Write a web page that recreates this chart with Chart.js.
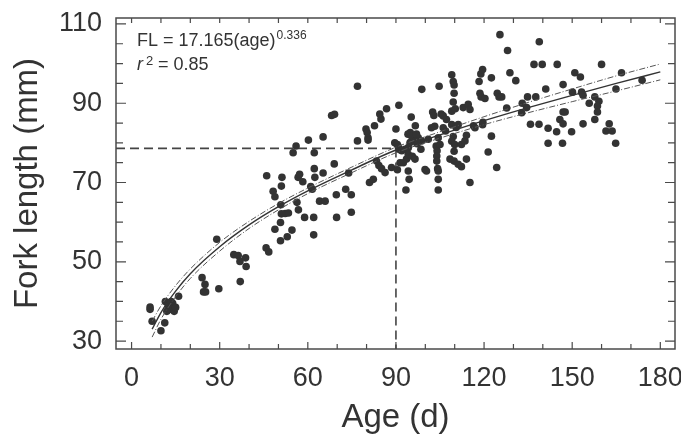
<!DOCTYPE html>
<html>
<head>
<meta charset="utf-8">
<script src="https://cdn.jsdelivr.net/npm/chart.js@4.4.0/dist/chart.umd.min.js"></script>
<style>
  html, body { margin: 0; padding: 0; background: #fff; }
  #wrap { width: 681px; height: 434px; }
</style>
</head>
<body>
<div id="wrap"><canvas id="chart" width="681" height="434"></canvas></div>
<script>
// fish samples: age (d) and fork length (mm)
const ages = [
  6.3, 6.3, 7, 10, 11.3, 11.5, 12.5, 13, 12, 14, 14.5, 15, 13.5, 16,
  24, 25, 24.5, 25.2, 29, 29.7, 34.8, 36.3, 36.9, 37, 38.8, 39,
  45.8, 46.7, 46, 48.2, 48.8, 48.8, 50.8, 51, 51.2, 50.7, 50.7, 52.3, 53, 53.4, 54.6, 51,
  55, 56, 56.7, 57.2, 58.3, 56.8, 58.9, 56.3,
  60.2, 61, 61.5, 62.2, 62.2, 62.4, 62, 62, 64, 65.9, 65.2, 65.2,
  68.1, 69.1, 69, 69.7, 69.8, 72.9, 73.9, 74.8, 74.8,
  76.9, 76.9, 79.8, 80.2, 80.5, 80.5, 81, 82.3, 82.7, 84.9, 84.5, 86.8,
  83.4, 84.2, 85.1, 86.3, 88.5,
  90, 91, 89.6, 90.5, 90.8, 91.2, 90.5, 92, 91.4, 92.5, 93.6, 93.1, 94.2, 94.2, 94.8,
  93.4, 94.5, 94.2, 94.1, 94.9, 95.2, 95.2, 96.6, 95.6, 96.5, 96.5, 97.2, 97.6, 98.7, 97, 98.5, 98.8, 99.9, 100.4, 101,
  102.5, 102.9, 103.2, 102.1, 103.7, 104, 103.9, 103.9, 104.7, 104.2, 104.4, 104.4, 104.4, 104.4, 105,
  105.4, 106.1, 107.2, 106.1, 106.9, 109, 109.5, 109.8, 109.8, 109.5, 109, 110.2, 109, 109.5, 109, 110, 109.8, 110.5, 111.2,
  108.4, 109.8, 111.2, 112.3, 114, 112.3, 113.5, 114,
  112.9, 114.6, 115.2, 116.4, 116.9, 115.2,
  118.6, 119, 118.3, 118.9, 119.5, 119.6, 119.5, 121.4, 122.5, 122.5, 120.3, 124.5, 125.1, 124.3,
  125.4, 128, 128.8, 130.8, 126, 127.7, 138.8, 137, 139.8, 144.9, 160, 150.9, 152.8, 141, 146.9,
  166.8, 173.8, 164.9, 134.8, 137.6, 133, 134.5, 132.8, 150.1, 153.2, 153.7, 157.7, 159.1, 158.6,
  158.6, 155.8, 146.9, 147.6, 145.8, 146.9, 135.8, 138.7, 141.8, 144.7, 149.8, 153.7, 157.7, 162.6,
  161.5, 163.6, 141.8, 146.7, 164.8
];
const lengths = [
  38.6, 38.0, 35, 32.6, 34.6, 40, 39, 38, 37.5, 39.5, 37.5, 38.5, 40, 41.3,
  46, 44.3, 42.4, 42.4, 55.7, 43.2, 51.8, 51.6, 50.1, 45, 51, 48.8,
  53.5, 52.5, 71.7, 67.8, 66.4, 58.2, 64.4, 69.1, 71.3, 59.9, 55.3, 62.2, 56.3, 62.3, 58, 62.1,
  77.5, 79.2, 71.3, 72.1, 70.2, 63.1, 61.2, 65,
  80.7, 69, 68.3, 77.5, 73.5, 71.3, 61.2, 56.8, 65.3, 65.3, 81.5, 72.4,
  86.9, 87.2, 74.7, 66.9, 61.2, 68.3, 72.4, 66.9, 62.5,
  94.3, 80.5, 83.5, 82.6, 81.3, 80.7, 70, 70.8, 84.3, 86, 87.3, 88.6,
  75.4, 74.3, 73.5, 72.5, 73.8,
  83.5, 89.5, 80, 79.6, 79, 78.3, 73.2, 78, 75, 75, 75.9, 78.4, 78.8, 77.1, 80.1,
  68.1, 70.8, 72.9, 82.2, 82.6, 81.8, 86.5, 84.3, 76.6, 75.9, 80.5, 79.8, 81.3, 80.5, 82.2, 78.4, 93.5, 73.3, 72.9, 80.9,
  87.8, 86.9, 84.2, 83.8, 79.2, 78, 76.7, 75.4, 94.3, 73.5, 72.9, 70.8, 68.1, 81.3, 79.6,
  87.3, 86.8, 85.9, 83.8, 83, 97.2, 95.5, 94.6, 92.5, 90.3, 88, 88.6, 84.6, 81.6, 80.4, 79.6, 77.9, 83.9, 84.6,
  75.9, 75.4, 74.6, 74, 75.9, 79.6, 80.5, 81.9,
  88.9, 89.7, 88.4, 84.3, 83.8, 70,
  92.5, 91.6, 95.5, 97.4, 98.5, 85.2, 84.6, 77.7, 81.7, 96.4, 91.2, 92.5, 91.6, 73.8,
  107.3, 103.3, 97.7, 95.7, 91.6, 88.8, 105.5, 99.8, 99.8, 99.8, 99.8, 97.7, 96.6, 93.6, 94.7,
  97.7, 95.8, 93.6, 91.6, 91.6, 90, 88.9, 87.6, 92.8, 92.8, 92, 91.6, 90.5, 89.3,
  87.8, 90, 87.8, 87.8, 85.9, 84.8, 84.7, 84.7, 83.7, 82.8, 82.8, 84.8, 85.9, 84.8,
  83, 83, 79.9, 79.9, 79.9
];

// fitted curve FL = 17.165(age)^0.336 and its confidence band, read at a few ages
const fitAges  = [7, 10, 15, 20, 30, 40, 50, 60, 75, 90, 105, 120, 135, 150, 165, 180];
const fitFL    = [33.0, 37.2, 42.6, 47.0, 53.8, 59.3, 63.9, 67.9, 73.2, 78.2, 82.0, 85.6, 88.9, 92.0, 95.0, 97.9];
const upperFL  = [35.0, 38.9, 44.0, 48.2, 54.9, 60.2, 64.7, 68.6, 73.9, 78.9, 82.8, 86.6, 90.2, 93.6, 96.9, 99.9];
const lowerFL  = [31.0, 35.5, 41.2, 45.8, 52.7, 58.4, 63.1, 67.2, 72.5, 77.5, 81.2, 84.6, 87.6, 90.4, 93.1, 95.9];

// reading at 90 days
const refAge = 90;
const refLength = 78.6;

const xTicks = [0, 30, 60, 90, 120, 150, 180];
const yTicks = [30, 50, 70, 90, 110];
const xMin = -5.3, xMax = 185;
const yMin = 28, yMax = 111.5;

const points = ages.map((a, i) => ({ x: a, y: lengths[i] }));
const toXY = (xs, ys) => xs.map((v, i) => ({ x: v, y: ys[i] }));

// frame with inward ticks on all four sides, plus the equation text
const framePlugin = {
  id: 'frame',
  afterDatasetsDraw(chart) {
    const { ctx, chartArea: a, scales: { x, y } } = chart;
    ctx.save();
    ctx.strokeStyle = '#4a4a4a';
    ctx.lineWidth = 1.5;
    ctx.strokeRect(a.left, a.top, a.right - a.left, a.bottom - a.top);

    ctx.lineWidth = 1.2;
    ctx.beginPath();
    for (let v = 0; v <= 180; v += 10) {
      const px = x.getPixelForValue(v);
      const len = v % 30 === 0 ? 7 : 5;
      ctx.moveTo(px, a.bottom); ctx.lineTo(px, a.bottom - len);
      ctx.moveTo(px, a.top); ctx.lineTo(px, a.top + 5);
    }
    for (let v = 30; v <= 110; v += 5) {
      const py = y.getPixelForValue(v);
      const len = v % 20 === 10 ? 10 : 7;
      ctx.moveTo(a.left, py); ctx.lineTo(a.left + len, py);
      ctx.moveTo(a.right, py); ctx.lineTo(a.right - len, py);
    }
    ctx.stroke();

    // equation
    ctx.fillStyle = '#333';
    ctx.textBaseline = 'alphabetic';
    const tx = a.left + 21;
    ctx.font = '18px "Liberation Sans", Arial, sans-serif';
    ctx.fillText('FL = 17.165(age)', tx, a.top + 28);
    const w = ctx.measureText('FL = 17.165(age)').width;
    ctx.font = '12px "Liberation Sans", Arial, sans-serif';
    ctx.fillText('0.336', tx + w + 1, a.top + 21);
    ctx.font = 'italic 18px "Liberation Sans", Arial, sans-serif';
    ctx.fillText('r', tx, a.top + 52);
    const rw = ctx.measureText('r').width;
    ctx.font = '13px "Liberation Sans", Arial, sans-serif';
    ctx.fillText('2', tx + rw + 3, a.top + 47);
    ctx.font = '18px "Liberation Sans", Arial, sans-serif';
    ctx.fillText('= 0.85', tx + rw + 15, a.top + 52);
    ctx.restore();
  }
};

const tickFont = { family: '"Liberation Sans", Arial, sans-serif', size: 27 };

new Chart(document.getElementById('chart'), {
  type: 'scatter',
  data: {
    datasets: [
      {
        label: 'guide',
        data: [{ x: xMin, y: refLength }, { x: refAge, y: refLength }, { x: refAge, y: yMin }],
        showLine: true,
        borderColor: '#444',
        borderWidth: 1.6,
        borderDash: [9, 5],
        pointRadius: 0,
        order: 3
      },
      {
        label: 'samples',
        data: points,
        backgroundColor: '#333',
        borderWidth: 0,
        pointRadius: 3.8,
        order: 2
      },
      {
        label: 'upper',
        data: toXY(fitAges, upperFL),
        showLine: true,
        borderColor: '#555',
        borderWidth: 1,
        borderDash: [6, 2, 1, 2],
        pointRadius: 0,
        cubicInterpolationMode: 'monotone',
        order: 1
      },
      {
        label: 'lower',
        data: toXY(fitAges, lowerFL),
        showLine: true,
        borderColor: '#555',
        borderWidth: 1,
        borderDash: [6, 2, 1, 2],
        pointRadius: 0,
        cubicInterpolationMode: 'monotone',
        order: 1
      },
      {
        label: 'fit',
        data: toXY(fitAges, fitFL),
        showLine: true,
        borderColor: '#333',
        borderWidth: 1.4,
        pointRadius: 0,
        cubicInterpolationMode: 'monotone',
        order: 0
      }
    ]
  },
  options: {
    responsive: false,
    animation: false,
    layout: { padding: { top: 18, right: 6, left: 0, bottom: 0 } },
    plugins: { legend: { display: false }, tooltip: { enabled: false } },
    scales: {
      x: {
        type: 'linear',
        min: xMin,
        max: xMax,
        afterBuildTicks: s => { s.ticks = xTicks.map(v => ({ value: v })); },
        afterFit: s => { s.height = 85; s.paddingLeft = 0; s.paddingRight = 0; },
        grid: { display: false, drawTicks: false },
        border: { display: false },
        ticks: { padding: 13, color: '#333', font: tickFont },
        title: {
          display: true,
          text: 'Age (d)',
          color: '#333',
          padding: { top: 0, bottom: -4 },
          font: { family: '"Liberation Sans", Arial, sans-serif', size: 33 }
        }
      },
      y: {
        type: 'linear',
        min: yMin,
        max: yMax,
        afterBuildTicks: s => { s.ticks = yTicks.map(v => ({ value: v })); },
        afterFit: s => { s.width = 116; s.paddingTop = 0; s.paddingBottom = 0; },
        grid: { display: false, drawTicks: false },
        border: { display: false },
        ticks: { padding: 14, color: '#333', font: tickFont },
        title: {
          display: true,
          text: 'Fork length (mm)',
          color: '#333',
          padding: { top: 8, bottom: 0 },
          font: { family: '"Liberation Sans", Arial, sans-serif', size: 33 }
        }
      }
    }
  },
  plugins: [framePlugin]
});
</script>
</body>
</html>
